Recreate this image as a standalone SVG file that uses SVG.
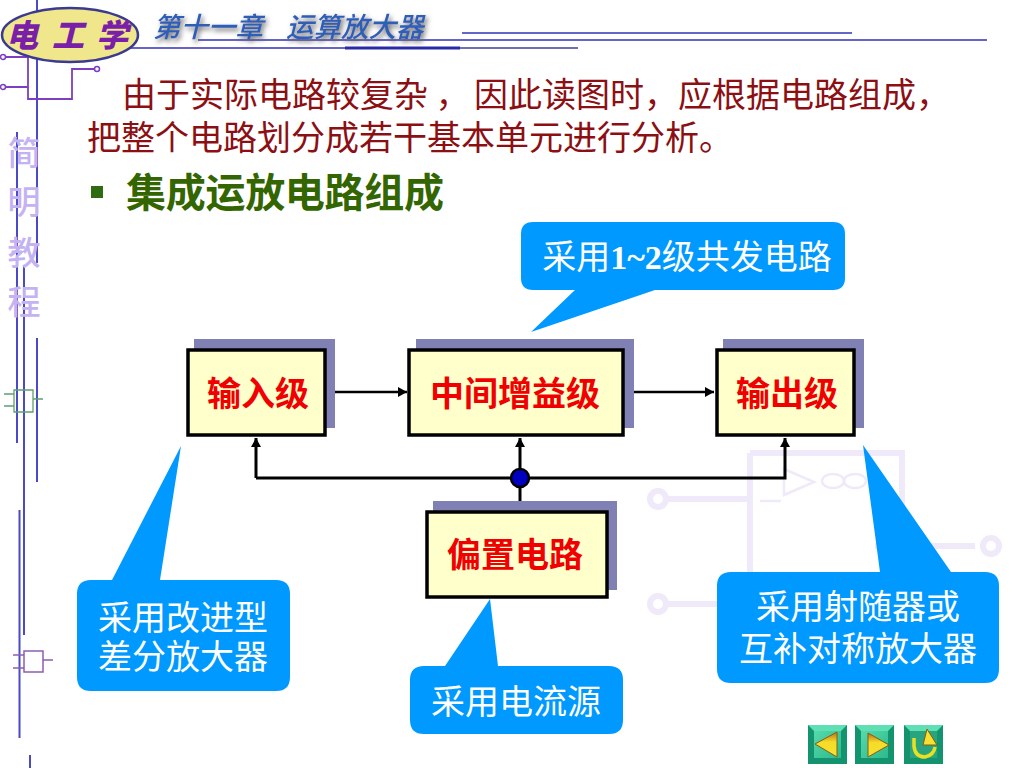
<svg xmlns="http://www.w3.org/2000/svg" width="1024" height="768" viewBox="0 0 1024 768">
<style>
text{font-family:"Noto Sans CJK SC","Liberation Sans",sans-serif}
.body{font-size:34px;fill:#8c0f14}
.call{font-size:34px;fill:#fff;text-anchor:middle}
.lab{font-size:34px;font-weight:700;fill:#f00000;text-anchor:middle}
.side{font-size:33px;fill:#c4b3f2;text-anchor:middle;font-weight:500}
.logot{font-size:32px;font-weight:900;fill:#7a1fa8;font-style:italic}
.box{fill:#ffffcc;stroke:#000;stroke-width:3.5}
.sh{fill:#8080b4}
.bub{fill:#0099ff}
.rule{stroke:#4a4ac8;stroke-width:2;fill:none}
.hr{stroke:#3232b8;stroke-width:1.5;fill:none}
.wire{stroke:#000;stroke-width:3;fill:none}
.thin{stroke:#000;stroke-width:2.5;fill:none}
.wm{stroke:#efe9f9;stroke-width:6;fill:none}
.wm2{stroke:#efe9f9;stroke-width:2.5;fill:none}
.btn{fill:url(#btnfill)}
.bev{fill:#14946e}
.bev2{fill:#5fe0b4}
.tri{fill:url(#tri);stroke:#8a5a10;stroke-width:1}
</style>
<defs>
<marker id="a" markerWidth="11" markerHeight="11" refX="9" refY="5" orient="auto" markerUnits="userSpaceOnUse"><path d="M0,0L9,5L0,10z" fill="#000"/></marker>
<linearGradient id="btnfill" x1="0" y1="0" x2="1" y2="1"><stop offset="0" stop-color="#55d9ab"/><stop offset="1" stop-color="#2cbb8c"/></linearGradient>
<linearGradient id="tri" x1="0" y1="0" x2="0" y2="1"><stop offset="0" stop-color="#b8701a"/><stop offset="0.4" stop-color="#f6dc28"/><stop offset="1" stop-color="#f6e030"/></linearGradient>
<filter id="ds" x="-10%" y="-30%" width="120%" height="170%"><feDropShadow dx="2" dy="3" stdDeviation="2.500" flood-color="#666"/></filter>
</defs>

<g id="background">
<path class="wm" d="M750,453H902V575M750,453V572M665,499H750M665,604H720M875,546H975"/>
<circle class="wm" cx="658" cy="499" r="8"/><circle class="wm" cx="658" cy="604" r="8"/><circle class="wm" cx="991" cy="546" r="8"/>
<path class="wm2" d="M784,469L814,482L784,495Z M760,501H781"/>
<ellipse class="wm2" cx="833" cy="481" rx="11" ry="7"/><ellipse class="wm2" cx="855" cy="481" rx="11" ry="7"/>
</g>

<g id="frame">
<path class="rule" d="M37,0V263M37,338V482M17,132V443M24,265V635M19.500,510V738M30,755V768"/>
<path class="hr" d="M462,33H852M198,40H987M130,48H345"/>
<path d="M345,48H460" stroke="#2a2aa8" stroke-width="3"/>
<path d="M460,48H578" stroke="#7070b0" stroke-width="2"/>
<path d="M5,57H28V99H72V69H95M5,87H28" fill="none" stroke="#7d3fc0" stroke-width="1.8"/>
<circle cx="3" cy="57" r="2.500" fill="none" stroke="#7d3fc0" stroke-width="1.5"/><circle cx="3" cy="87" r="2.500" fill="none" stroke="#7d3fc0" stroke-width="1.5"/><circle cx="97" cy="69" r="2.500" fill="none" stroke="#7d3fc0" stroke-width="1.5"/>
<path d="M4,394H14M4,406H14M14,390H33V412H14ZM33,399H43" fill="none" stroke="#5f9f6f" stroke-width="1.3"/>
<path d="M13,655H24M13,668H24M24,651H43V672H24ZM43,660H53" fill="none" stroke="#8a5fb0" stroke-width="1.5"/>
</g>

<g id="logo">
<ellipse cx="70" cy="35" rx="68" ry="27" fill="#f0e68c" stroke="#3a3a90" stroke-width="2.500"/>
<text class="logot" x="6" y="47">电</text>
<text class="logot" x="52" y="47">工</text>
<text class="logot" x="96" y="47">学</text>
</g>
<g id="title">
<text x="153" y="37" filter="url(#ds)" style="font-size:27.500px;font-style:italic;fill:#2f5fb8;font-weight:500">第十一章<tspan dx="23">运算放大器</tspan></text>
</g>

<g id="side-title">
<text class="side" x="24" y="165">简</text>
<text class="side" x="24" y="214">明</text>
<text class="side" x="24" y="265">教</text>
<text class="side" x="24" y="314">程</text>
</g>

<g id="intro">
<text class="body" x="122" y="107">由于实际电路较复杂 ，<tspan x="474">因此读图时，应根据电路组成，</tspan></text>
<text class="body" x="87" y="150">把整个电路划分成若干基本单元进行分析。</text>
<rect x="91" y="186" width="12" height="12" fill="#2f6b10"/>
<text x="126" y="207" style="font-size:40px;font-weight:700;fill:#336600" textLength="318">集成运放电路组成</text>
</g>

<g id="connectors">
<path class="thin" d="M334,392H407" marker-end="url(#a)"/>
<path class="thin" d="M633,392H714" marker-end="url(#a)"/>
<path class="wire" d="M256,478V438" marker-end="url(#a)"/>
<path class="wire" d="M256,478H785V438" marker-end="url(#a)"/>
<path class="wire" d="M520,503V438" marker-end="url(#a)"/>
<circle cx="520" cy="478" r="9" fill="#0000c0" stroke="#000" stroke-width="2.500"/>
</g>

<g id="node-input"><rect class="sh" x="194" y="339" width="141" height="89"/><rect class="box" x="188" y="350" width="137" height="85"/><text class="lab" x="258" y="406">输入级</text></g>
<g id="node-middle"><rect class="sh" x="416" y="339" width="218" height="89"/><rect class="box" x="409" y="350" width="214" height="85"/><text class="lab" x="515" y="406">中间增益级</text></g>
<g id="node-output"><rect class="sh" x="723" y="339" width="141" height="89"/><rect class="box" x="717" y="350" width="137" height="85"/><text class="lab" x="787" y="406">输出级</text></g>
<g id="node-bias"><rect class="sh" x="433" y="501" width="184" height="89"/><rect class="box" x="427" y="512" width="180" height="85"/><text class="lab" x="515" y="567">偏置电路</text></g>

<g id="callout-top">
<path class="bub" d="M531,222H833Q845,222 845,234V278Q845,290 833,290H655L531,332L575,290H533Q521,290 521,278V234Q521,222 533,222Z"/>
<text class="call" x="687" y="269">采用<tspan style="font-family:'Liberation Serif',serif;font-weight:700">1~2</tspan>级共发电路</text>
</g>
<g id="callout-left">
<path class="bub" d="M181,446L160,580H276Q290,580 290,594V677Q290,691 276,691H91Q77,691 77,677V594Q77,580 91,580H112Z"/>
<text class="call" x="183" y="630">采用改进型</text>
<text class="call" x="183" y="669">差分放大器</text>
</g>
<g id="callout-bias">
<path class="bub" d="M490,599L498,666H609Q623,666 623,680V720Q623,734 609,734H424Q410,734 410,720V680Q410,666 424,666H445Z"/>
<text class="call" x="516" y="714">采用电流源</text>
</g>
<g id="callout-right">
<path class="bub" d="M863,445L951,572H985Q999,572 999,586V669Q999,683 985,683H731Q717,683 717,669V586Q717,572 731,572H880Z"/>
<text class="call" x="858" y="619">采用射随器或</text>
<text class="call" x="858" y="661">互补对称放大器</text>
</g>

<g id="nav">
<rect class="bev" x="808" y="725" width="39" height="39"/><path class="bev2" d="M808,725H847L841,731H814Z"/><rect class="btn" x="814" y="731" width="27" height="27"/>
<path class="tri" d="M815,744L837,732V757Z"/>
<rect class="bev" x="855" y="725" width="39" height="39"/><path class="bev2" d="M855,725H894L888,731H861Z"/><rect class="btn" x="861" y="731" width="27" height="27"/>
<path class="tri" d="M868,733L889,745L868,757Z"/>
<rect class="bev" x="904" y="725" width="39" height="39"/><path class="bev2" d="M904,725H943L937,731H910Z"/><rect class="btn" x="910" y="731" width="27" height="27" style="fill:#2aa47e"/>
<path d="M914,738V746Q915,757 925,757Q934,755 935,747" fill="none" stroke="#e8e020" stroke-width="3.500"/>
<path d="M927,729L937,745H923Z" fill="#f6e030" stroke="#8a5a10" stroke-width="1"/>
</g>
</svg>
